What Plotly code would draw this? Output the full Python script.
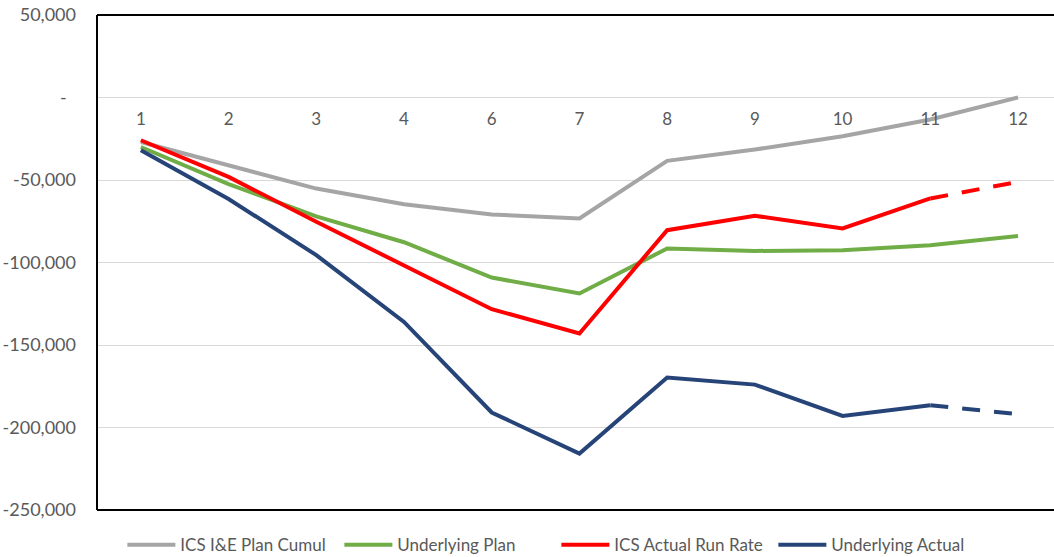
import plotly.graph_objects as go

# Month index labels (no 5th period in the series)
categories = ["1", "2", "3", "4", "6", "7", "8", "9", "10", "11", "12"]

plan_cumul = [-27000, -41000, -55200, -64700, -70900, -73300, -38400, -31500, -23500, -13300, 0]
underlying_plan = [-30000, -52500, -72000, -87700, -109100, -118800, -91500, -93000, -92500, -89500, -83900]
actual_run_rate = [-25900, -48100, -75300, -101600, -128300, -143000, -80400, -71700, -79400, -61200, -51100]
underlying_actual = [-32000, -61500, -95500, -136000, -190900, -215800, -169700, -174000, -193000, -186500, -191900]

y_tickvals = [50000, 0, -50000, -100000, -150000, -200000, -250000]
y_ticktext = ["50,000", "-  ", "-50,000", "-100,000", "-150,000", "-200,000", "-250,000"]

FONT = "Lato"
TXT = "#595959"
LW = 4
DASH = "18px,14px"

# index from which the actual series are projected (dashed)
proj = 9

fig = go.Figure()

fig.add_trace(go.Scatter(x=categories, y=plan_cumul, mode="lines",
                         name="ICS I&E Plan Cumul",
                         line=dict(color="#A5A5A5", width=LW)))
fig.add_trace(go.Scatter(x=categories, y=underlying_plan, mode="lines",
                         name="Underlying Plan",
                         line=dict(color="#70AD47", width=LW)))
fig.add_trace(go.Scatter(x=categories[:proj + 1], y=actual_run_rate[:proj + 1], mode="lines",
                         name="ICS Actual Run Rate", legendgroup="rr",
                         line=dict(color="#FF0000", width=LW)))
fig.add_trace(go.Scatter(x=categories[proj:], y=actual_run_rate[proj:], mode="lines",
                         name="ICS Actual Run Rate", legendgroup="rr", showlegend=False,
                         line=dict(color="#FF0000", width=LW, dash=DASH)))
fig.add_trace(go.Scatter(x=categories[:proj + 1], y=underlying_actual[:proj + 1], mode="lines",
                         name="Underlying Actual", legendgroup="ua",
                         line=dict(color="#264478", width=LW)))
fig.add_trace(go.Scatter(x=categories[proj:], y=underlying_actual[proj:], mode="lines",
                         name="Underlying Actual", legendgroup="ua", showlegend=False,
                         line=dict(color="#264478", width=LW, dash=DASH)))

fig.update_layout(
    width=1054, height=557,
    margin=dict(l=97, r=0, t=15, b=47, autoexpand=False),
    paper_bgcolor="white", plot_bgcolor="white",
    font=dict(family=FONT, size=16, color=TXT),
    showlegend=True,
    legend=dict(orientation="h", x=0.480, xanchor="center", y=-0.071, yanchor="middle",
                itemwidth=48, entrywidth=154, entrywidthmode="pixels",
                font=dict(family=FONT, size=17, color=TXT), traceorder="normal"),
    xaxis=dict(type="category", categoryorder="array", categoryarray=categories,
               range=[-0.5, 10.41], showgrid=False, zeroline=False, showline=False,
               anchor="free", position=250000 / 300000, side="bottom",
               ticks="", ticklabelstandoff=9,
               tickfont=dict(family=FONT, size=17, color=TXT)),
    yaxis=dict(range=[-250000, 50000], tickvals=y_tickvals, ticktext=y_ticktext,
               showgrid=True, gridcolor="#D9D9D9", gridwidth=1,
               zeroline=True, zerolinecolor="#D9D9D9", zerolinewidth=1,
               showline=False, ticks="", ticklabelstandoff=20,
               tickfont=dict(family=FONT, size=18, color=TXT)),
)

# plot-area frame: left, top and bottom edges
for x0, y0, x1, y1 in [(0, 0, 0, 1), (0, 1, 1, 1), (0, 0, 1, 0)]:
    fig.add_shape(type="line", xref="paper", yref="paper", x0=x0, y0=y0, x1=x1, y1=y1,
                  line=dict(color="black", width=2))

fig.write_html("out.html")
